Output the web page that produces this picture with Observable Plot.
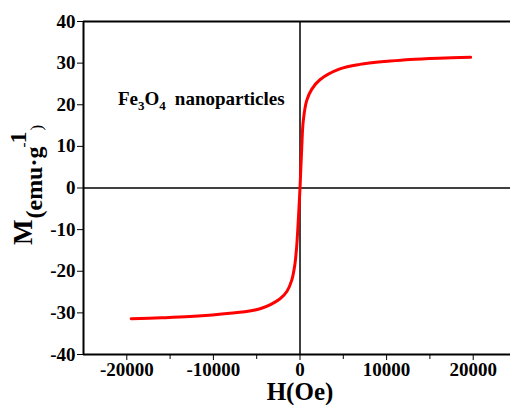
<!DOCTYPE html>
<html><head><meta charset="utf-8">
<script src="https://cdn.jsdelivr.net/npm/d3@7"></script>
<script src="https://cdn.jsdelivr.net/npm/@observablehq/plot@0.6"></script>
<style>body{margin:0;background:#fff} svg text{font-family:"Liberation Serif","Times New Roman",serif !important;}</style>
</head><body><div id="chart"></div>
<script>
const H = [-19500, -16000, -12700, -8100, -4600, -2300, -1500, -960, -600, -380, -150, 0, 200, 380, 770, 1350, 2300, 4600, 6900, 10400, 12700, 16000, 19700];
const M = [-31.4, -31.2, -30.9, -30.1, -29.0, -26.6, -24.8, -22.2, -18.5, -14, -6, 0, 9.7, 16.2, 21, 23.7, 26, 28.6, 29.7, 30.5, 30.9, 31.2, 31.4];
const xMajor = [-20000, -10000, 0, 10000, 20000];
const xMinor = [-15000, -5000, 5000, 15000];
const yTicks = [-40, -30, -20, -10, 0, 10, 20, 30, 40];
const data = H.map((h, i) => ({H: h, M: M[i]}));

const chart = Plot.plot({
  width: 510, height: 405,
  marginTop: 21, marginBottom: 51, marginLeft: 83, marginRight: -6,
  style: {fontFamily: "'Liberation Serif', serif", fontSize: "19px", fontWeight: "bold", color: "#000", background: "#fff"},
  x: {domain: [-25000, 25000]},
  y: {domain: [-40, 40]},
  marks: [
    Plot.ruleY([0], {stroke: "#000", strokeWidth: 1.5}),
    Plot.ruleX([0], {stroke: "#000", strokeWidth: 1.5}),
    Plot.line(data, {x: "H", y: "M", stroke: "#ff0000", strokeWidth: 3, curve: "catmull-rom"}),
    Plot.axisX({ticks: xMajor, tickSize: 6, tickPadding: 2, tickFormat: d => String(d), label: null, fontWeight: "bold", fontSize: 19}),
    Plot.axisX({ticks: xMinor, tickSize: 5, tickFormat: () => "", label: null}),
    Plot.axisY({ticks: yTicks, tickSize: 6, tickPadding: 2, tickFormat: d => String(d), label: null, fontWeight: "bold", fontSize: 19}),
    Plot.ruleY([-40], {stroke: "#000", strokeWidth: 2}),
    Plot.ruleY([40], {stroke: "#000", strokeWidth: 2}),
    Plot.ruleX([-25000], {stroke: "#000", strokeWidth: 2})
  ]
});
document.getElementById("chart").appendChild(chart);

const svg = d3.select(chart);
svg.style("overflow", "visible");
svg.selectAll("g").attr("font-family", "Liberation Serif");
// x label
svg.append("text").attr("x", 300).attr("y", 400).attr("text-anchor", "middle")
  .attr("font-weight", "bold").attr("font-size", 25)
  .attr("fill", "#000").text("H(Oe)");
// y label
const yl = svg.append("text").attr("transform", "translate(32,245) rotate(-90)")
  .attr("text-anchor", "start").attr("font-weight", "bold").attr("fill", "#000");
yl.append("tspan").attr("font-size", 27).text("M");
yl.append("tspan").attr("font-size", 24).attr("dx", 1).attr("dy", 10).text("(emu·g");
yl.append("tspan").attr("font-size", 15).attr("dx", -1).attr("dy", -14).text("-");
yl.append("tspan").attr("font-size", 24).attr("dx", -1).attr("dy", -2).text("1");
yl.append("tspan").attr("font-size", 17).attr("dx", 1).attr("dy", 16).attr("font-weight", "normal").text(")");
// annotation
const ann = svg.append("text").attr("x", 118).attr("y", 105).attr("text-anchor", "start")
  .attr("font-weight", "bold").attr("font-size", 19).attr("fill", "#000");
ann.append("tspan").text("Fe");
ann.append("tspan").attr("font-size", 13).attr("dy", 5).text("3");
ann.append("tspan").attr("dy", -5).text("O");
ann.append("tspan").attr("font-size", 13).attr("dy", 5).text("4");
ann.append("tspan").attr("dy", -5).attr("dx", 9).text("nanoparticles");
</script></body></html>
